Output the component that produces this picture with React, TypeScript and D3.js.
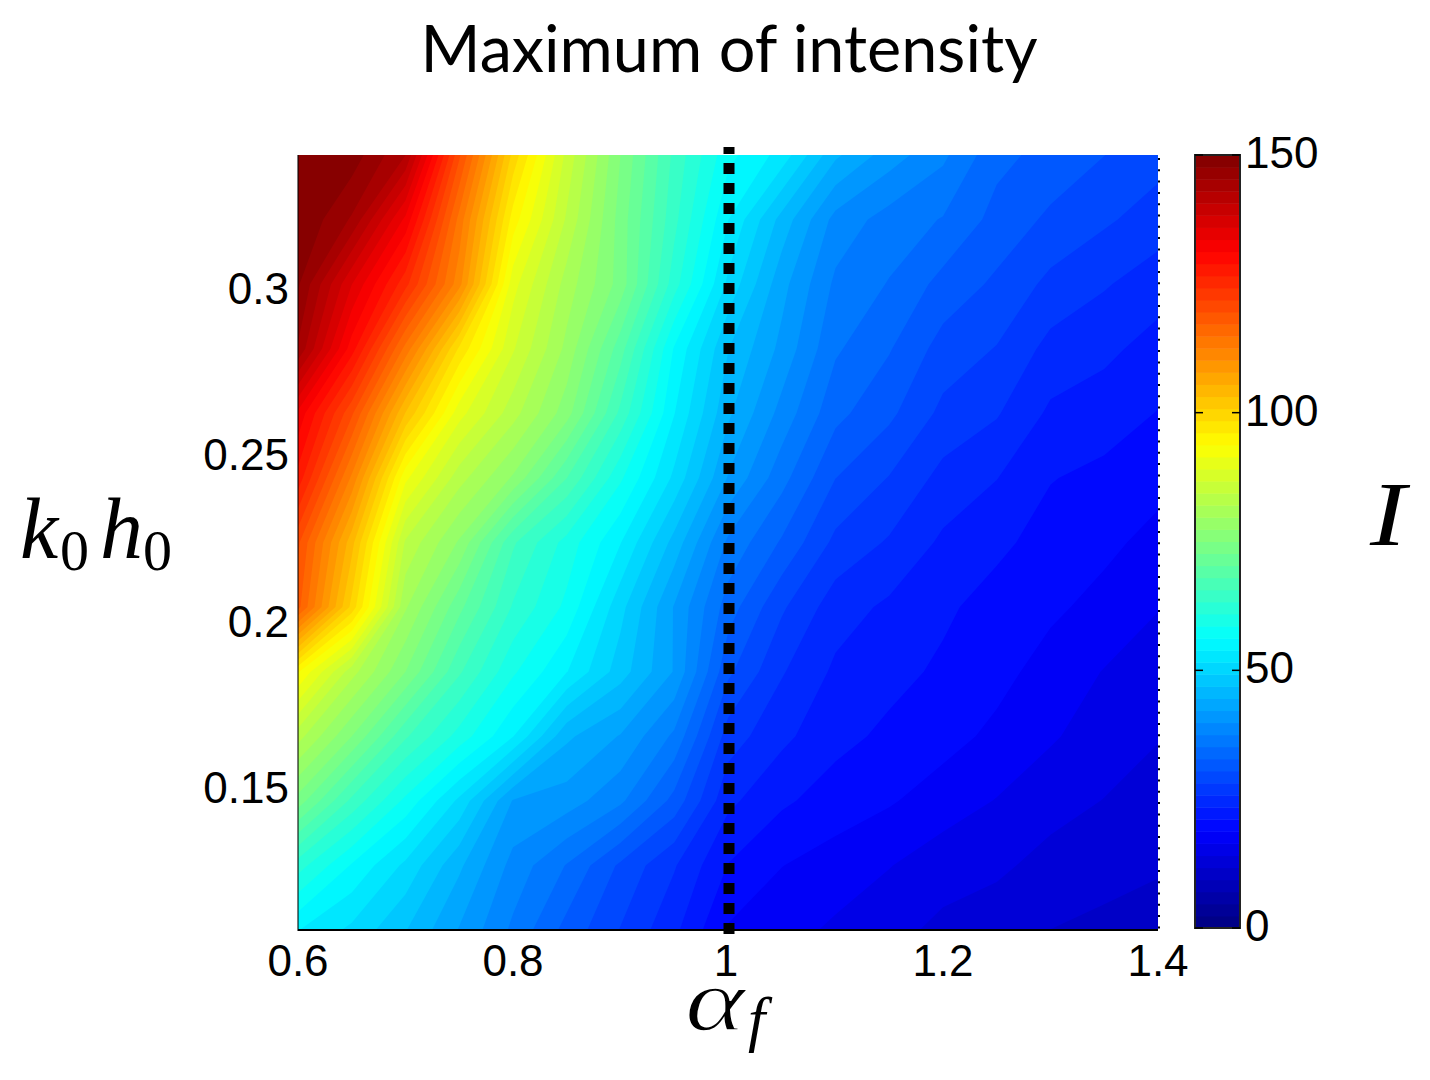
import React from "react";
import * as d3 from "d3";

const titleText = "Maximum of intensity";
const alphaValues = [0.6, 0.65, 0.7, 0.75, 0.8, 0.85, 0.9, 0.95, 1.0, 1.05, 1.1, 1.15, 1.2, 1.25, 1.3, 1.35, 1.4];
const kMax = 0.34;
const kMin = 0.107;
const xTicks = [0.6, 0.8, 1, 1.2, 1.4];
const xTickLabels = ["0.6", "0.8", "1", "1.2", "1.4"];
const yTicks = [0.15, 0.2, 0.25, 0.3];
const yTickLabels = ["0.15", "0.2", "0.25", "0.3"];
const cbTicks = [0, 50, 100, 150];
const colorMax = 150;
const markerAlpha = 1.0;

// intensity rows, top (k = 0.34) to bottom (k = 0.107)
const intensity = [
  [150, 149, 143, 120, 100, 86, 75, 65, 57, 53, 45, 41, 38, 33.5, 32, 30.5, 29],
  [150, 145, 133, 114, 95, 84, 74, 64, 54, 46, 39, 36.5, 35, 32, 30, 28.5, 27],
  [148, 136, 125, 111, 90, 81, 74, 62, 51, 43, 37, 35, 32, 30, 27.5, 26, 24.5],
  [145, 130, 114, 98, 87, 79, 69, 56, 47, 41.5, 35.5, 33, 29.5, 28, 25, 24, 22.5],
  [133, 120, 103, 90, 83, 76, 65, 54, 45, 39, 33.5, 31, 27.5, 26, 23, 22.2, 21],
  [128, 112, 92, 83, 77, 68, 59, 51, 42, 36, 30.5, 28, 25, 23.5, 21.2, 20.5, 19.5],
  [120, 104, 84, 77, 66, 60, 54, 46, 37, 32.5, 27.5, 25.5, 23, 21.6, 20.2, 19.3, 18],
  [118, 100, 80, 71, 63, 58, 50, 42, 34, 28.5, 24.5, 23, 21.5, 20.2, 19.2, 18, 16.5],
  [94, 83, 75, 66, 59, 54, 48, 42, 31, 26, 23, 21.8, 20.7, 19.5, 17.8, 16.3, 15.3],
  [83, 75, 66, 60, 54, 45, 42, 37, 27, 24, 21.8, 20.6, 19.6, 18.2, 16.7, 15.2, 14.2],
  [74, 65, 58, 51, 42, 41, 38, 32, 24, 21.5, 20, 19, 17.6, 16.3, 14.9, 14, 13],
  [62, 56, 51, 45, 39, 35, 30, 26, 21, 18.8, 17.7, 16.5, 15.1, 14.5, 13.3, 12.5, 11.9],
  [54, 51, 47, 42, 37, 32, 28, 24, 18.5, 17.3, 16, 14.8, 13.5, 12.8, 11.7, 11.2, 11],
];

const W = 1430;
const H = 1080;
const plot = { left: 298, right: 1158, top: 155, bottom: 930 };
const bar = { left: 1195, right: 1240, top: 155, bottom: 928 };
const LEVELS = 64;

function jet(t: number): string {
  const c = (v: number) => Math.round(255 * Math.max(0, Math.min(1, v)));
  const r = 1.5 - Math.abs(4 * t - 3);
  const g = 1.5 - Math.abs(4 * t - 2);
  const b = 1.5 - Math.abs(4 * t - 1);
  return `rgb(${c(r)},${c(g)},${c(b)})`;
}

const tickFont: React.CSSProperties = { fontFamily: "'Liberation Sans'", fontSize: 44, fill: "#000" };
const mathFont: React.CSSProperties = { fontFamily: "'Liberation Serif'", fontStyle: "italic", fill: "#000" };
const uprightMath: React.CSSProperties = { fontFamily: "'Liberation Serif'", fill: "#000" };

export default function App() {
  const nx = alphaValues.length;
  const ny = intensity.length;
  const x = d3.scaleLinear().domain([0.6, 1.4]).range([plot.left, plot.right]);
  const y = d3.scaleLinear().domain([kMin, kMax]).range([plot.bottom, plot.top]);
  const cb = d3.scaleLinear().domain([0, colorMax]).range([bar.bottom, bar.top]);

  // grid index -> pixel: d3.contours places sample i at i + 0.5
  const gx = d3.scaleLinear().domain([0.5, nx - 0.5]).range([plot.left, plot.right]);
  const gy = d3.scaleLinear().domain([0.5, ny - 0.5]).range([plot.top, plot.bottom]);
  const path = d3.geoPath(
    d3.geoTransform({
      point(px: number, py: number) {
        (this as any).stream.point(gx(px), gy(py));
      },
    })
  );

  const step = colorMax / LEVELS;
  const thresholds = d3.range(1, LEVELS).map((i) => i * step);
  const contours = d3.contours().size([nx, ny]).smooth(true).thresholds(thresholds)(intensity.flat());
  const bands = d3.range(LEVELS).map((i) => i);

  return (
    <svg width={W} height={H} viewBox={`0 0 ${W} ${H}`} style={{ position: "absolute", left: 0, top: 0, display: "block", background: "#fff" }}>
      <defs>
        <clipPath id="plotClip">
          <rect x={plot.left} y={plot.top} width={plot.right - plot.left} height={plot.bottom - plot.top} />
        </clipPath>
      </defs>

      <text x={729} y={72} textAnchor="middle" style={{ fontFamily: "Lato", fontSize: 66, fill: "#000" }} textLength={617} lengthAdjust="spacingAndGlyphs">
        {titleText}
      </text>

      <g clipPath="url(#plotClip)">
        <rect x={plot.left} y={plot.top} width={plot.right - plot.left} height={plot.bottom - plot.top} fill={jet(0.5 / LEVELS)} />
        {contours.map((c, i) => (
          <path key={i} d={path(c as any) ?? ""} fill={jet((i + 1.5) / LEVELS)} />
        ))}
      </g>

      <line x1={plot.left} x2={plot.left} y1={plot.top} y2={plot.bottom + 1} stroke="#000" strokeOpacity={0.7} strokeWidth={1.5} />
      <line x1={plot.left} x2={plot.right} y1={plot.bottom} y2={plot.bottom} stroke="#000" strokeWidth={2} />
      <line x1={plot.right + 1} x2={plot.right + 1} y1={plot.top + 3} y2={plot.bottom} stroke="#000" strokeWidth={2} strokeDasharray="2 9.3" />

      <line x1={x(markerAlpha) + 1} x2={x(markerAlpha) + 1} y1={plot.bottom + 4} y2={plot.top - 8} stroke="#000" strokeWidth={11} strokeDasharray="11 9" />

      {xTicks.map((t, i) => (
        <text key={t} x={x(t) - (t === 1 ? 2 : 0)} y={976} textAnchor="middle" style={tickFont}>
          {xTickLabels[i]}
        </text>
      ))}
      {yTicks.map((t, i) => (
        <text key={t} x={289} y={y(t) + 16} textAnchor="end" style={tickFont}>
          {yTickLabels[i]}
        </text>
      ))}

      {bands.map((i) => (
        <rect
          key={i}
          x={bar.left}
          width={bar.right - bar.left}
          y={cb((i + 1) * step)}
          height={cb(i * step) - cb((i + 1) * step) + 0.5}
          fill={jet((i + 0.5) / LEVELS)}
        />
      ))}
      <rect x={bar.left} y={bar.top} width={bar.right - bar.left} height={bar.bottom - bar.top} fill="none" stroke="#222" strokeWidth={2} />
      {cbTicks.map((t) => (
        <g key={t}>
          <line x1={bar.left} x2={bar.left + 8} y1={cb(t)} y2={cb(t)} stroke="#000" strokeWidth={1.5} />
          <line x1={bar.right - 8} x2={bar.right} y1={cb(t)} y2={cb(t)} stroke="#000" strokeWidth={1.5} />
          <text x={1245} y={cb(t) + 13} style={tickFont}>
            {t}
          </text>
        </g>
      ))}

      <text x={20} y={558} style={{ ...mathFont, fontSize: 86 }}>k</text>
      <text x={60} y={570} style={{ ...uprightMath, fontSize: 58 }}>0</text>
      <text x={100} y={558} style={{ ...mathFont, fontSize: 86 }}>h</text>
      <text x={143} y={570} style={{ ...uprightMath, fontSize: 58 }}>0</text>

      <text x={685} y={1030} style={{ ...mathFont, fontSize: 88, stroke: "#fff", strokeWidth: 1.5 }} textLength={60} lengthAdjust="spacingAndGlyphs">α</text>
      <text x={748} y={1040} style={{ ...mathFont, fontSize: 62 }}>f</text>

      <text x={1370} y={545} style={{ ...mathFont, fontSize: 92 }} textLength={36} lengthAdjust="spacingAndGlyphs">I</text>
    </svg>
  );
}
